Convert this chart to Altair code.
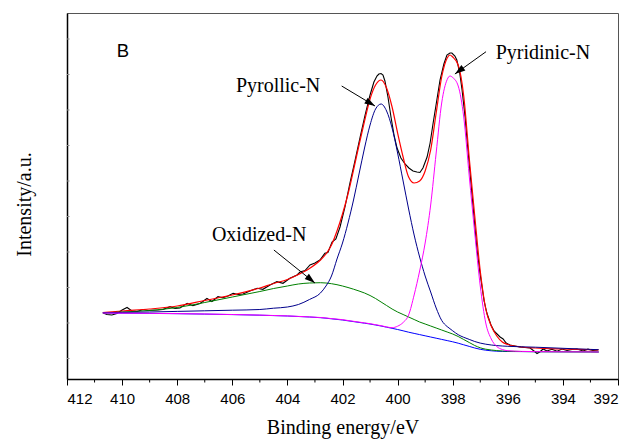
import altair as alt
import pandas as pd

# ---------------- data ----------------
be = [410.7, 410.0, 409.0, 408.0, 407.0, 406.0, 405.0, 404.5, 404.0, 403.6, 403.2, 402.8,
      402.6, 402.4, 402.2, 402.0, 401.8, 401.6, 401.4, 401.2, 401.0, 400.8, 400.6, 400.4,
      400.2, 400.0, 399.8, 399.6, 399.4, 399.2, 399.0, 398.8, 398.6, 398.4, 398.2, 398.1,
      398.0, 397.8, 397.6, 397.4, 397.2, 397.0, 396.8, 396.6, 396.4, 396.2, 396.0, 395.5,
      395.0, 394.0, 393.0, 392.7]

background = [66, 65.8, 65.6, 65.3, 64.9, 64.4, 63.8, 63.4, 63, 62.5, 62, 61.3,
              60.8, 60.2, 59.6, 59, 58.2, 57.4, 56.6, 55.8, 55, 54, 53, 51.8,
              50.7, 49.5, 48.2, 46.8, 45.6, 44.4, 43.2, 42, 40.8, 39.6, 38.4, 37.8,
              37.2, 35.8, 34.2, 32.6, 31, 29.7, 28.8, 28.2, 27.8, 27.6, 27.5, 27.4,
              27.3, 27.2, 27.1, 27]

oxidized = [66, 67, 68.5, 71.5, 76.5, 82, 87.5, 90.5, 93, 95, 96, 96.3,
            96, 95.3, 94.3, 93, 91.5, 89.8, 88, 86, 83.5, 80.5, 77, 73.5,
            70, 67, 64.5, 62, 59.5, 57, 55, 53, 51, 49, 47, 46,
            45, 42.5, 39.5, 36.5, 33.5, 31.2, 29.8, 29, 28.4, 28, 27.8, 27.5,
            27.3, 27.2, 27.1, 27]

pyrrolic = [66.3, 66.6, 67, 67.6, 68.2, 68.8, 69.5, 70.8, 72, 74.5, 79.5, 86,
            93, 103, 120, 136, 156, 179, 205, 231, 254, 270, 275, 268,
            251, 226, 198, 170, 144, 122, 103, 87, 71, 58.6, 52.4, 50.3,
            48.2, 44.3, 41.7, 39.6, 37.5, 35.9, 34.8, 34, 33.4, 33, 32.7, 32.2,
            31.8, 30.7, 29.6, 29.3]

pyridinic = [66, 65.9, 65.7, 65.4, 65, 64.5, 63.9, 63.5, 63.1, 62.6, 62.1, 61.5,
             61, 60.4, 59.9, 59.3, 58.5, 57.7, 56.9, 56.1, 55.3, 54.3, 53.3, 52.1,
             51.3, 52.8, 56.5, 64, 84, 108, 136, 174, 226, 276, 299.5, 303,
             301.5, 293, 262, 203, 146, 93, 56, 40, 32.5, 29.5, 28.3, 27.6,
             27.4, 27.2, 27.1, 27]

envelope = [66.3, 68, 70, 73, 78.5, 84, 91, 95.5, 99.5, 104.5, 110.5, 119,
            125, 134, 148, 165, 185, 209, 234, 258, 280, 294, 299, 291,
            272, 246, 222, 202, 196, 198, 208, 229, 266, 302, 321, 324,
            322, 314, 283, 221, 163, 108, 70, 53, 43, 37, 34.5, 32,
            31, 30, 29.3, 29]

raw_be = [410.69, 410.55, 410.37, 410.19, 410.00, 409.82, 409.64, 409.46, 409.24, 409.06,
          408.88, 408.70, 408.52, 408.26, 408.08, 407.90, 407.64, 407.43, 407.17, 406.92,
          406.74, 406.52, 406.34, 406.16, 405.97, 405.79, 405.61, 405.36, 405.10, 404.89,
          404.63, 404.38, 404.16, 403.91, 403.65, 403.54, 403.36, 403.18, 403.00, 402.82,
          402.64, 402.53, 402.38, 402.24, 402.09, 401.91, 401.73, 401.55, 401.36, 401.18,
          401.00, 400.86, 400.75, 400.68, 400.60, 400.53, 400.46, 400.35, 400.24, 400.13,
          400.02, 399.88, 399.73, 399.59, 399.44, 399.30, 399.19, 399.08, 398.93, 398.82,
          398.71, 398.57, 398.46, 398.32, 398.21, 398.10, 398.03, 397.92, 397.85, 397.74,
          397.66, 397.55, 397.48, 397.37, 397.26, 397.12, 397.01, 396.86, 396.76, 396.61,
          396.50, 396.39, 396.28, 396.17, 396.06, 395.92, 395.74, 395.56, 395.38, 395.19,
          395.05, 394.94, 394.83, 394.72, 394.58, 394.40, 394.21, 394.03, 393.85, 393.67,
          393.49, 393.27, 393.09, 392.91, 392.73]
raw_int = [66, 64.5, 64, 65.5, 69, 71.5, 68, 67.5, 69.5, 68.5,
           68.8, 69, 69.5, 72.3, 70.5, 71, 75.7, 73.3, 75.5, 80.5,
           77.5, 82.3, 81.3, 83, 85.7, 84.5, 85, 88, 90.7, 89.7,
           94, 97.3, 95.7, 100.7, 104, 107, 108.5, 114, 116, 119,
           125.7, 126.5, 137, 140, 152, 172, 196, 218, 242, 264,
           284, 297, 303, 305, 305.5, 304, 298, 282, 262, 244,
           231, 221, 215, 211, 208, 207, 206.5, 211, 222, 236,
           256, 280, 299, 315, 324, 326, 326, 323, 319, 305,
           289, 262, 239, 206, 172, 130, 106, 78, 66, 54,
           48, 45, 42, 40, 36, 34, 33, 32, 31.5, 31,
           28, 25.5, 27.3, 30, 28, 29.7, 27.8, 30, 28.5, 29.5,
           30, 28, 29.8, 28.5, 29]

major_ticks = [412, 410, 408, 406, 404, 402, 400, 398, 396, 394, 392]
minor_ticks = [411, 409, 407, 405, 403, 401, 399, 397, 395, 393]
y_ticks = [20.5, 56, 91.5, 127, 162.5, 198, 233.5, 269, 304.5, 340]

labels = ["B", "Pyrollic-N", "Pyridinic-N", "Oxidized-N"]
label_be = [410.19, 405.87, 396.44, 406.74]
label_int = [322, 287, 320, 138]

arrow_be0 = [402.03, 396.79, 404.49]
arrow_int0 = [293, 327.3, 129]
arrow_be1 = [400.82, 397.92, 403.0]
arrow_int1 = [273, 305, 96]

# ---------------- chart ----------------
xs = alt.Scale(domain=[392, 412], reverse=True, nice=False, zero=False)
ys = alt.Scale(domain=[0, 366], nice=False, zero=False)

xax = alt.Axis(values=major_ticks, format="d", grid=False,
               labelFont="Liberation Sans", labelFontSize=15, labelColor="black",
               labelPadding=6, tickSize=6, tickColor="black", tickWidth=1,
               domainColor="black", domainWidth=1.5,
               titleFont="Liberation Serif", titleFontSize=20, titleFontWeight="normal",
               titleColor="black", titleX=275.5, titleY=54, titleBaseline="alphabetic")
yax = alt.Axis(labels=False, ticks=False, grid=False,
               domainColor="black", domainWidth=1.5,
               titleFont="Liberation Serif", titleFontSize=20, titleFontWeight="normal",
               titleColor="black", titleAngle=270, titleX=-37, titleY=191,
               titleBaseline="alphabetic", titleAlign="center")
XT = "Binding energy/eV"
YT = "Intensity/a.u."


def X(field):
    return alt.X(field, type="quantitative", scale=xs, axis=xax, title=XT)


def Y(field):
    return alt.Y(field, type="quantitative", scale=ys, axis=yax, title=YT)


raw_df = pd.DataFrame({"be": raw_be, "y": raw_int})
raw = alt.Chart(raw_df).mark_line(color="black", strokeWidth=1.1).encode(
    x=X("be"), y=Y("y"))


def curve(values, color, width=1.0):
    df = pd.DataFrame({"be": be, "y": values})
    return alt.Chart(df).mark_line(color=color, strokeWidth=width,
                                   interpolate="monotone").encode(x=X("be"), y=Y("y"))


minor = alt.Chart(pd.DataFrame({"t": minor_ticks})).mark_rule(
    color="black", strokeWidth=1).encode(
    x=X("t"), y=alt.value(366), y2=alt.value(369.5))

yt = alt.Chart(pd.DataFrame({"t": y_ticks})).mark_rule(
    color="#888888", strokeWidth=1).encode(
    y=Y("t"), x=alt.value(0), x2=alt.value(2.5))

lab_df = pd.DataFrame({"text": labels, "be": label_be, "y": label_int})
txt_b = alt.Chart(lab_df.iloc[:1]).mark_text(
    font="Liberation Sans", fontSize=18.5, align="left", baseline="alphabetic",
    color="black").encode(x=X("be"), y=Y("y"), text="text:N")
txt = alt.Chart(lab_df.iloc[1:]).mark_text(
    font="Liberation Serif", fontSize=20, align="left", baseline="alphabetic",
    color="black").encode(x=X("be"), y=Y("y"), text="text:N")

arr_df = pd.DataFrame({"x0": arrow_be0, "y0": arrow_int0, "x1": arrow_be1, "y1": arrow_int1})
shafts = alt.Chart(arr_df).mark_rule(color="black", strokeWidth=1).encode(
    x=X("x0"), y=Y("y0"), x2="x1:Q", y2="y1:Q")

head_path = "M0,0 L-0.32,1 L0.32,1 Z"
angles = [121, 234, 129]
heads = []
for i, ang in enumerate(angles):
    heads.append(
        alt.Chart(arr_df.iloc[i:i + 1]).mark_point(
            shape=head_path, filled=True, size=440, angle=ang, color="black",
            opacity=1, strokeWidth=0).encode(x=X("x1"), y=Y("y1")))

chart = alt.layer(
    raw,
    curve(envelope, "#ff0000", 1.2),
    curve(background, "#0000ff", 1.0),
    curve(oxidized, "#008000", 1.0),
    curve(pyrrolic, "#00008b", 1.0),
    curve(pyridinic, "#ff00ff", 1.0),
    minor, yt, txt_b, txt, shafts, *heads,
).properties(
    width=551, height=366,
    padding={"left": 67, "top": 13, "right": 13, "bottom": 60},
    autosize=alt.AutoSizeParams(type="none"),
    background="white",
).configure_view(stroke="#555555", strokeWidth=1)

chart.save("out.html", embed_options={"renderer": "svg", "actions": False})
